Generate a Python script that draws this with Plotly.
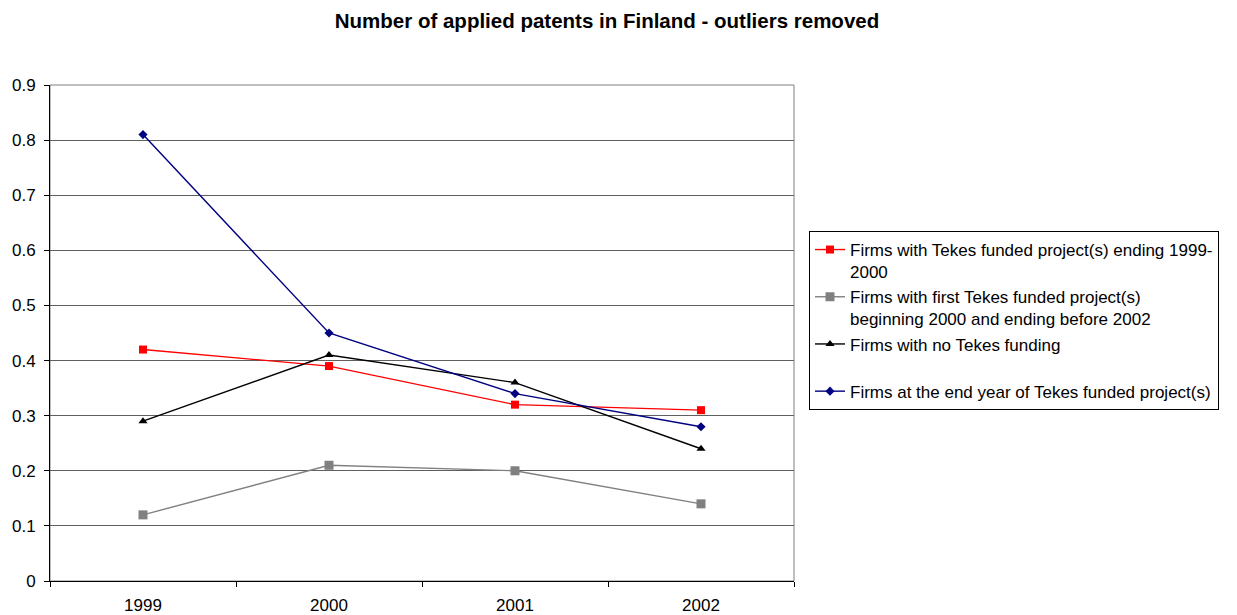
import plotly.graph_objects as go

years = ["1999", "2000", "2001", "2002"]
ending_1999_2000 = [0.42, 0.39, 0.32, 0.31]
first_2000_before_2002 = [0.12, 0.21, 0.20, 0.14]
no_tekes = [0.29, 0.41, 0.36, 0.24]
end_year = [0.81, 0.45, 0.34, 0.28]

names = [
    "Firms with Tekes funded project(s) ending 1999-<br>2000",
    "Firms with first Tekes funded project(s)<br>beginning 2000 and ending before 2002",
    "Firms with no Tekes funding<br> ",
    "Firms at the end year of Tekes funded project(s)",
]
series = [ending_1999_2000, first_2000_before_2002, no_tekes, end_year]
colors = ["#FF0000", "#808080", "#000000", "#000080"]
symbols = ["square", "square", "triangle-up", "diamond"]
sizes = [8, 9, 8, 7]

FONT = "Arial, 'Liberation Sans', sans-serif"

# page body has an 8px margin; figure sized/positioned to compensate
W, H = 1229, 607
L, R, T, B = 42, 443, 77, 34
PW, PH = W - L - R, H - T - B

fig = go.Figure()
for i, (nm, ys, c, s, sz) in enumerate(zip(names, series, colors, symbols, sizes)):
    fig.add_trace(go.Scatter(
        x=years, y=ys, name=nm, mode="lines+markers",
        line=dict(color=c, width=1.4),
        marker=dict(symbol=s, size=sz, color=c),
        legendgroup=f"g{i}",
    ))

fig.update_layout(
    width=W, height=H,
    margin=dict(l=L, r=R, t=T, b=B, autoexpand=False),
    paper_bgcolor="white", plot_bgcolor="white",
    font=dict(family=FONT, size=17, color="#000000"),
    title=dict(
        text="<b>Number of applied patents in Finland - outliers removed</b>",
        x=599 / W, xref="container", xanchor="center",
        y=1 - 13 / H, yref="container", yanchor="middle",
        font=dict(family=FONT, size=20.5, color="#000000"),
    ),
    showlegend=True,
    legend=dict(
        x=(801 - L) / PW, xanchor="left",
        y=(H - B - 223) / PH, yanchor="top",
        bordercolor="#000000", borderwidth=1, bgcolor="white",
        font=dict(family=FONT, size=17, color="#000000"),
        valign="top", tracegroupgap=0,
        itemwidth=30,
    ),
    shapes=[dict(type="rect", xref="paper", yref="paper", x0=0, x1=1, y0=0, y1=1,
                 line=dict(color="#808080", width=1), layer="below")],
)
fig.update_xaxes(
    type="category", range=[-0.5, 3.5], automargin=False,
    showline=True, linecolor="#000000", linewidth=1,
    showgrid=False, ticks="outside", tickson="boundaries", ticklen=5,
    tickcolor="#000000", ticklabelstandoff=9, zeroline=False,
)
fig.update_yaxes(
    range=[0, 0.9], dtick=0.1, tick0=0, automargin=False,
    showline=True, linecolor="#000000", linewidth=1,
    showgrid=True, gridcolor="#606060", gridwidth=1,
    ticks="outside", ticklen=5, tickcolor="#000000",
    ticklabelstandoff=5, zeroline=False,
)

fig.write_html("out.html")
